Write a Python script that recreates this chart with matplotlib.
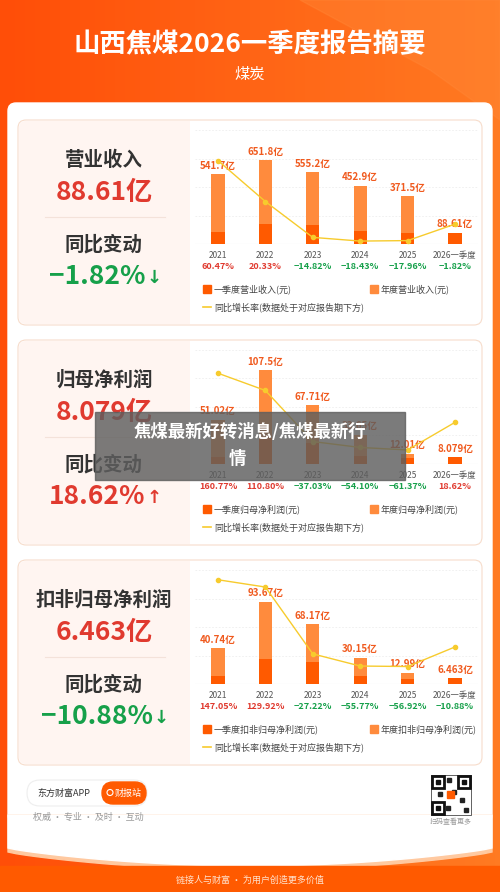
import numpy as np
import matplotlib
matplotlib.use("Agg")
import matplotlib.pyplot as plt
from matplotlib.patches import FancyBboxPatch, Rectangle, Polygon, Circle

plt.rcParams['font.family'] = ['Noto Sans CJK SC', 'DejaVu Sans']

W, H = 500, 892

# ---- data ----
years = ["2021", "2022", "2023", "2024", "2025", "2026一季度"]

rev_q1 = [93, 155, 147, 100, 85, 88.61]
rev_year = [541.7, 651.8, 555.2, 452.9, 371.5, np.nan]
rev_yoy = [60.47, 20.33, -14.82, -18.43, -17.96, -1.82]
rev_labels = ["541.7亿", "651.8亿", "555.2亿", "452.9亿", "371.5亿", "88.61亿"]

np_q1 = [8.5, 30, 24, 9.3, 6.8, 8.079]
np_year = [51.02, 107.5, 67.71, 33.65, 12.01, np.nan]
np_yoy = [160.77, 110.80, -37.03, -54.10, -61.37, 18.62]
np_labels = ["51.02亿", "107.5亿", "67.71亿", "33.65亿", "12.01亿", "8.079亿"]

kf_q1 = [9.4, 29, 24.6, 9.4, 6, 6.463]
kf_year = [40.74, 93.67, 68.17, 30.15, 12.99, np.nan]
kf_yoy = [147.05, 129.92, -27.22, -55.77, -56.92, -10.88]
kf_labels = ["40.74亿", "93.67亿", "68.17亿", "30.15亿", "12.99亿", "6.463亿"]

ORANGE = "#FF5A00"
LIGHT = "#FF8B3D"
LINE = "#F7CB2D"
RED = "#E03A2F"
GREEN = "#16A04A"

fig = plt.figure(figsize=(W / 100, H / 100), dpi=100)
bg = fig.add_axes([0, 0, 1, 1])
bg.set_xlim(0, W)
bg.set_ylim(H, 0)
bg.axis("off")

# orange gradient background
grad = np.linspace(0, 1, 100)[None, :]
cmap = matplotlib.colors.LinearSegmentedColormap.from_list("o", ["#FF4E08", "#FF7A22"])
bg.imshow(grad, extent=(0, W, H, 0), cmap=cmap, aspect="auto", zorder=0)
bg.add_patch(Polygon([(300, 0), (500, 0), (500, 120), (430, 70)], color="#FF8A3A", alpha=0.35, zorder=1))

bg.text(250, 45, "山西焦煤2026一季度报告摘要", color="white", fontsize=19, fontweight="bold",
        ha="center", va="center", zorder=2)
bg.text(250, 74, "煤炭", color="white", fontsize=11, ha="center", va="center", zorder=2)

# white card with curved bottom
bg.add_patch(FancyBboxPatch((8, 103), 484, 720, boxstyle="round,pad=0,rounding_size=8",
                            color="white", zorder=2))
xs = np.linspace(8, 492, 60)
curve = 848 + 18 * np.sin(np.pi * (xs - 8) / 484) ** 0.8
bg.add_patch(Polygon(list(zip(xs, curve + 4)) + [(492, 815), (8, 815)], color="#FFC9A0", zorder=2))
bg.add_patch(Polygon(list(zip(xs, curve)) + [(492, 815), (8, 815)], color="white", zorder=2))
bg.add_patch(Rectangle((0, 866), W, 26, color=ORANGE, zorder=2))
bg.text(250, 880, "链接人与财富 · 为用户创造更多价值", color="#FFE3CF", fontsize=6.5,
        ha="center", va="center", zorder=3)

# footer app badge
bg.add_patch(FancyBboxPatch((27, 780), 120, 26, boxstyle="round,pad=0,rounding_size=13",
                            fc="white", ec="#EEEEEE", lw=0.8, zorder=3))
bg.add_patch(FancyBboxPatch((102, 782), 44, 22, boxstyle="round,pad=0,rounding_size=11",
                            color=ORANGE, zorder=4))
bg.text(64, 793, "东方财富APP", fontsize=6.5, color="#333333", ha="center", va="center", zorder=5)
bg.add_patch(Circle((110, 792.5), 3, fc="none", ec="white", lw=0.8, zorder=5))
bg.text(128, 793, "财报站", fontsize=6.5, color="white", ha="center", va="center", zorder=5)
bg.text(88, 817, "权威 · 专业 · 及时 · 互动", fontsize=6.5, color="#999999", ha="center", va="center", zorder=5)

# qr-like badge
bg.add_patch(Rectangle((431, 775), 40, 40, fc="white", ec="#222222", lw=0.5, zorder=3))
for (qx, qy) in [(432, 776), (458, 776), (432, 802)]:
    bg.add_patch(Rectangle((qx, qy), 12, 12, fc="white", ec="#111111", lw=2, zorder=4))
    bg.add_patch(Rectangle((qx + 4, qy + 4), 4, 4, color="#111111", zorder=5))
for (qx, qy) in [(447, 778), (452, 790), (460, 798), (446, 806), (464, 808), (438, 792)]:
    bg.add_patch(Rectangle((qx, qy), 4, 4, color="#222222", zorder=4))
bg.add_patch(Rectangle((447, 791), 7, 7, color=ORANGE, zorder=5))
bg.text(451, 822, "扫码查看更多", fontsize=5, color="#999999", ha="center", va="center", zorder=5)


def add_panel(top, title, value, change, up, q1, year, yoy, labels, leg1, leg2, yl, yl2):
    # panel frame
    bg.add_patch(FancyBboxPatch((18, top), 464, 205, boxstyle="round,pad=0,rounding_size=8",
                                fc="white", ec="#F7DCCB", lw=0.8, zorder=3))
    bg.add_patch(FancyBboxPatch((19, top + 1), 171, 203, boxstyle="round,pad=0,rounding_size=7",
                                fc="#FFF5F1", ec="none", zorder=3))
    bg.add_patch(Rectangle((150, top + 1), 40, 203, fc="#FFF5F1", ec="none", zorder=3))
    bg.plot([45, 165], [top + 97, top + 97], color="#F4E2DA", lw=0.8, zorder=4)
    bg.text(104, top + 40, title, fontsize=14, color="#333333", ha="center", va="center",
            fontweight="bold", zorder=5)
    bg.text(104, top + 72, value, fontsize=19, color=RED, ha="center", va="center",
            fontweight="bold", zorder=5)
    bg.text(104, top + 125, "同比变动", fontsize=14, color="#333333", ha="center", va="center",
            fontweight="bold", zorder=5)
    col = RED if up else GREEN
    arrow = "↑" if up else "↓"
    t = bg.text(97, top + 157, change, fontsize=19, color=col, ha="center", va="center",
                fontweight="bold", zorder=5)
    fig.canvas.draw()
    bb = t.get_window_extent().transformed(bg.transData.inverted())
    bg.text(max(bb.x0, bb.x1) + 1, top + 158, arrow, fontsize=13, color=col, ha="left",
            va="center", fontweight="bold", family=["DejaVu Sans"], zorder=5)

    # chart
    x0, x1 = 195, 478
    y0, y1 = top + 10, top + 124
    ax = fig.add_axes([x0 / W, 1 - y1 / H, (x1 - x0) / W, (y1 - y0) / H])
    ax.patch.set_alpha(0)
    x = np.arange(len(years))
    ax.bar(x, year, width=0.28, color=LIGHT, zorder=2)
    ax.bar(x, q1, width=0.28, color=ORANGE, zorder=3)
    ax.set_xlim(-0.485, 5.485)
    ax.set_ylim(0, yl)
    for gy in np.linspace(0, yl, 5)[1:]:
        ax.axhline(gy, color="#EEEEEE", lw=0.6, ls=(0, (2, 2)), zorder=1)
    ax.axhline(0, color="#E5E5E5", lw=0.8, zorder=1)
    for i in range(len(years)):
        top_val = year[i] if not np.isnan(year[i]) else q1[i]
        ax.text(i, top_val + yl * 0.03, labels[i], fontsize=7, color="#F05A1E",
                ha="center", va="bottom", fontweight="bold", zorder=6)
        ax.text(i, -0.1, years[i], transform=ax.get_xaxis_transform(), fontsize=6,
                color="#555555", ha="center", va="center")
        ax.text(i, -0.2, f"{yoy[i]:.2f}%".replace("-", "−"), transform=ax.get_xaxis_transform(),
                fontsize=6.5, color=RED if yoy[i] > 0 else GREEN, ha="center", va="center",
                fontweight="bold")
    ax.axis("off")
    ax2 = ax.twinx()
    ax2.plot(x, yoy, color=LINE, lw=1, marker="o", ms=3, zorder=5)
    ax2.set_ylim(*yl2)
    ax2.axis("off")

    # legend
    ly = top + 169
    bg.add_patch(Rectangle((203, ly - 4), 8, 8, color=ORANGE, zorder=5))
    bg.text(214, ly, leg1, fontsize=6.5, color="#444444", va="center", zorder=5)
    bg.add_patch(Rectangle((370, ly - 4), 8, 8, color=LIGHT, zorder=5))
    bg.text(381, ly, leg2, fontsize=6.5, color="#444444", va="center", zorder=5)
    bg.plot([203, 211], [ly + 18, ly + 18], color=LINE, lw=1.2, zorder=5)
    bg.text(214, ly + 18, "同比增长率(数据处于对应报告期下方)", fontsize=6.5, color="#444444",
            va="center", zorder=5)


add_panel(120, "营业收入", "88.61亿", "−1.82%", False, rev_q1, rev_year, rev_yoy, rev_labels,
          "一季度营业收入(元)", "年度营业收入(元)", 884, (-21.3, 90.5))
add_panel(340, "归母净利润", "8.079亿", "18.62%", True, np_q1, np_year, np_yoy, np_labels,
          "一季度归母净利润(元)", "年度归母净利润(元)", 131, (-102, 228))
add_panel(560, "扣非归母净利润", "6.463亿", "−10.88%", False, kf_q1, kf_year, kf_yoy, kf_labels,
          "一季度扣非归母净利润(元)", "年度扣非归母净利润(元)", 130, (-98, 170))

# overlay banner
ov = fig.add_axes([0, 0, 1, 1])
ov.set_xlim(0, W)
ov.set_ylim(H, 0)
ov.axis("off")
ov.add_patch(Rectangle((95, 412), 310, 68, color="#5E5E5E", alpha=0.82))
ov.text(250, 432, "焦煤最新好转消息/焦煤最新行", fontsize=12.5, color="white", fontweight="bold",
        ha="center", va="center")
ov.text(237, 459, "情", fontsize=12.5, color="white", fontweight="bold", ha="center", va="center")

fig.savefig("out.png", dpi=100)
